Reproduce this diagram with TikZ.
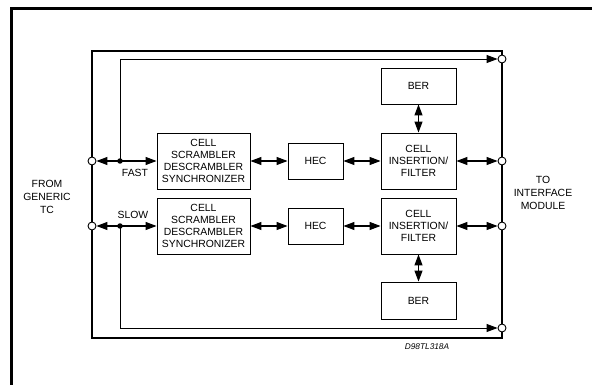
\documentclass[tikz,border=0pt]{standalone}
\usepackage{fontspec}
\setmainfont{Liberation Sans}
\usetikzlibrary{arrows.meta}
\tikzset{
  blk/.style={draw, line width=0.9pt, fill=white, inner sep=0pt, align=center,
              font=\fontsize{10.4}{12.2}\selectfont},
  port/.style={circle, draw, line width=0.9pt, fill=white, minimum size=8pt, inner sep=0pt},
  jdot/.style={circle, fill=black, minimum size=5.5pt, inner sep=0pt},
  tip/.style={Triangle[length=11pt,width=8pt]},
  link/.style={line width=1.1pt, {Triangle[length=11pt,width=8pt]}-{Triangle[length=11pt,width=8pt]}},
  feed/.style={line width=0.9pt, -{Triangle[length=11pt,width=8pt]}},
  lbl/.style={font=\fontsize{10.4}{12.6}\selectfont, align=center, inner sep=0pt}
}
\begin{document}
\begin{tikzpicture}[x=1pt,y=-1pt]
\useasboundingbox (0,0) rectangle (592,385);
% page frame
\draw[line width=3pt] (592,9) -- (11,9) -- (11,385);
% module frame
\draw[line width=2pt] (92,51) rectangle (502,338);

% processing blocks
\node[blk, minimum width=93pt, minimum height=56pt] (scr1) at (203.5,161) {CELL\\SCRAMBLER\\DESCRAMBLER\\SYNCHRONIZER};
\node[blk, minimum width=93pt, minimum height=56pt] (scr2) at (203.5,226) {CELL\\SCRAMBLER\\DESCRAMBLER\\SYNCHRONIZER};
\node[blk, minimum width=55pt, minimum height=36pt] (hec1) at (315.5,161) {HEC};
\node[blk, minimum width=55pt, minimum height=36pt] (hec2) at (315.5,226) {HEC};
\node[blk, minimum width=75pt, minimum height=56pt] (cif1) at (418.5,161) {CELL\\INSERTION/\\FILTER};
\node[blk, minimum width=75pt, minimum height=56pt] (cif2) at (418.5,226) {CELL\\INSERTION/\\FILTER};
\node[blk, minimum width=75pt, minimum height=36pt] (ber1) at (418.5,86) {BER};
\node[blk, minimum width=75pt, minimum height=37pt] (ber2) at (418.5,300.5) {BER};

% ports on the module frame
\node[port] (pfast) at (92,161) {};
\node[port] (pslow) at (92,226) {};
\node[port] (otop)  at (502,59) {};
\node[port] (ofast) at (502,161) {};
\node[port] (oslow) at (502,226) {};
\node[port] (obot)  at (502,328) {};

% junctions
\coordinate (tl) at (120,59);
\coordinate (bl) at (120,328);

% data paths
\draw[link] (pfast) -- (scr1);
\draw[link] (pslow) -- (scr2);
\draw[link] (scr1) -- (hec1);
\draw[link] (scr2) -- (hec2);
\draw[link] (hec1) -- (cif1);
\draw[link] (hec2) -- (cif2);
\draw[link] (cif1) -- (ofast);
\draw[link] (cif2) -- (oslow);
\draw[link] (ber1) -- (cif1);
\draw[link] (cif2) -- (ber2);

% bypass paths
\node[jdot] (jf) at (120,161) {};
\node[jdot] (js) at (120,226) {};
\draw[feed] (jf.center) -- (tl) -- (otop);
\draw[feed] (js.center) -- (bl) -- (obot);

% labels
\node[lbl] at (135,173) {FAST};
\node[lbl] at (133,215) {SLOW};
\node[lbl] at (47,197) {FROM\\GENERIC\\TC};
\node[lbl] at (543,193) {TO\\INTERFACE\\MODULE};
\node[lbl, font=\fontsize{8.3}{10}\selectfont\itshape] at (427,347) {D98TL318A};
\end{tikzpicture}
\end{document}
